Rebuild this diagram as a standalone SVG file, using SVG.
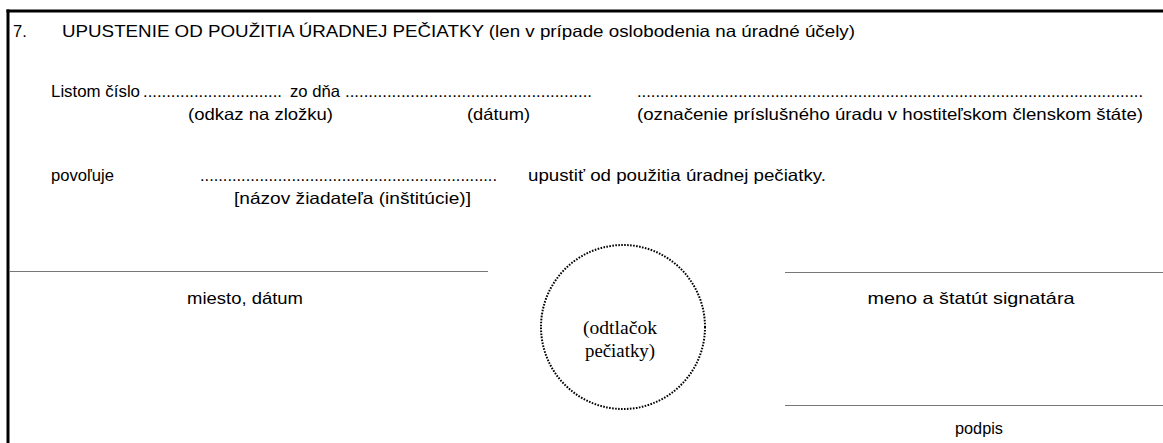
<svg xmlns="http://www.w3.org/2000/svg" width="1163" height="443" viewBox="0 0 1163 443">
<style>
.t{font-family:"Liberation Sans",Arial,sans-serif;font-size:16.5px;fill:#000}
.s{font-family:"Liberation Serif","Times New Roman",serif;font-size:18px;fill:#000}
.ln{stroke:#777;stroke-width:1;fill:none}
</style>
<rect width="1163" height="443" fill="#fff"/>
<g id="frame">
<line x1="6.5" y1="11" x2="1163" y2="11" stroke="#000" stroke-width="3"/>
<line x1="8" y1="9.5" x2="8" y2="443" stroke="#000" stroke-width="3"/>
</g>
<g id="title">
<text class="t" x="13" y="37">7.</text>
<text class="t" x="62" y="37" textLength="793" lengthAdjust="spacingAndGlyphs">UPUSTENIE OD POUŽITIA ÚRADNEJ PEČIATKY (len v prípade oslobodenia na úradné účely)</text>
</g>
<g id="row1">
<text class="t" x="51" y="97" textLength="89" lengthAdjust="spacingAndGlyphs">Listom číslo</text>
<text class="t" x="143" y="97" textLength="139" lengthAdjust="spacingAndGlyphs">..............................</text>
<text class="t" x="290" y="97" textLength="50" lengthAdjust="spacingAndGlyphs">zo dňa</text>
<text class="t" x="345" y="97" textLength="247" lengthAdjust="spacingAndGlyphs">.....................................................</text>
<text class="t" x="637" y="97" textLength="506" lengthAdjust="spacingAndGlyphs">..............................................................................................................</text>
<text class="t" x="188" y="120" textLength="145" lengthAdjust="spacingAndGlyphs">(odkaz na zložku)</text>
<text class="t" x="467" y="120" textLength="63" lengthAdjust="spacingAndGlyphs">(dátum)</text>
<text class="t" x="637" y="120" textLength="506" lengthAdjust="spacingAndGlyphs">(označenie príslušného úradu v hostiteľskom členskom štáte)</text>
</g>
<g id="row2">
<text class="t" x="51" y="181" textLength="63" lengthAdjust="spacingAndGlyphs">povoľuje</text>
<text class="t" x="200" y="181" textLength="297" lengthAdjust="spacingAndGlyphs">.................................................................</text>
<text class="t" x="528" y="181" textLength="298" lengthAdjust="spacingAndGlyphs">upustiť od použitia úradnej pečiatky.</text>
<text class="t" x="234" y="204" textLength="237" lengthAdjust="spacingAndGlyphs">[názov žiadateľa (inštitúcie)]</text>
</g>
<g id="lines">
<line class="ln" x1="9.5" y1="271.5" x2="488" y2="271.5"/>
<line class="ln" x1="785" y1="272.5" x2="1163" y2="272.5"/>
<line class="ln" x1="785" y1="405.5" x2="1163" y2="405.5"/>
</g>
<g id="place">
<text class="t" x="245" y="304" text-anchor="middle" textLength="116" lengthAdjust="spacingAndGlyphs">miesto, dátum</text>
</g>
<g id="stamp">
<circle cx="623" cy="327" r="82" fill="none" stroke="#000" stroke-width="2" stroke-dasharray="1.6 1.4"/>
<text class="s" x="620" y="334" text-anchor="middle" textLength="74" lengthAdjust="spacingAndGlyphs">(odtlačok</text>
<text class="s" x="620" y="357" text-anchor="middle" textLength="70" lengthAdjust="spacingAndGlyphs">pečiatky)</text>
</g>
<g id="signer">
<text class="t" x="971" y="304" text-anchor="middle" textLength="207" lengthAdjust="spacingAndGlyphs">meno a štatút signatára</text>
</g>
<g id="signature">
<text class="t" x="979" y="434" text-anchor="middle" textLength="48" lengthAdjust="spacingAndGlyphs">podpis</text>
</g>
</svg>
